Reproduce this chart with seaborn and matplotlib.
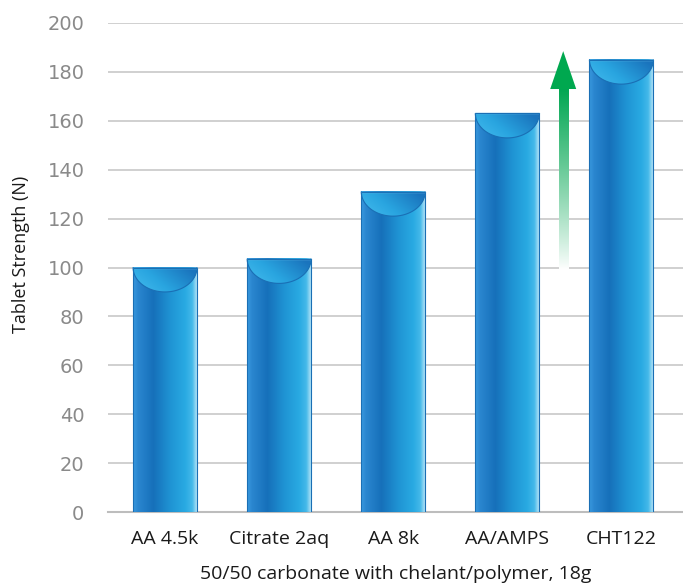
import numpy as np
import pandas as pd
import matplotlib
matplotlib.use("Agg")
import matplotlib.pyplot as plt
import seaborn as sns
from matplotlib.colors import LinearSegmentedColormap, to_rgba
from matplotlib.patches import Polygon

categories = ["AA 4.5k", "Citrate 2aq", "AA 8k", "AA/AMPS", "CHT122"]
strength = [100, 103.5, 131, 163, 185]
yticks = [0, 20, 40, 60, 80, 100, 120, 140, 160, 180, 200]
arrow_x = 3.49
arrow_bottom = 99
arrow_head_base = 173
arrow_tip = 188.5

df = pd.DataFrame({"cat": categories, "val": strength})

sns.set_theme(style="white")
plt.rcParams["font.family"] = ["DejaVu Sans"]

fig = plt.figure(figsize=(6.83, 5.84), dpi=100)
ax = fig.add_axes([108 / 683, 1 - 512 / 584, 1 - 108 / 683, (512 - 23) / 584])

sns.barplot(data=df, x="cat", y="val", ax=ax, width=0.56, color="#1f86cc",
            edgecolor="#1a6fb5", linewidth=0.8, zorder=2)

bar_cmap = LinearSegmentedColormap.from_list("bar", [
    (0.0, "#3a9ade"), (0.08, "#2a86cf"), (0.32, "#1670ba"),
    (0.58, "#1f93d3"), (0.82, "#29aae2"), (0.93, "#45b9ea"), (1.0, "#b0e2f6")])
cap_cmap = LinearSegmentedColormap.from_list("cap", [
    (0.0, "#45bcee"), (0.45, "#29a5e0"), (1.0, "#1a74bd")])

grad_h = np.linspace(0, 1, 256).reshape(1, -1)
cap_depth = 10
for p in list(ax.patches):
    x0 = p.get_x(); w = p.get_width(); h = p.get_height()
    p.set_facecolor("none")
    ax.imshow(grad_h, cmap=bar_cmap, aspect="auto", extent=(x0, x0 + w, 0, h),
              origin="lower", zorder=2.1, interpolation="bicubic")
    cx = x0 + w / 2
    t = np.linspace(np.pi, 2 * np.pi, 80)
    ex = cx + (w / 2) * np.cos(t)
    ey = h + cap_depth * np.sin(t)
    poly = Polygon(np.column_stack([ex, ey]), closed=True, facecolor="none",
                   edgecolor="none", zorder=2.3)
    ax.add_patch(poly)
    gx, gy = np.meshgrid(np.linspace(0, 1, 64), np.linspace(0, 1, 64))
    g = np.clip(0.75 * gx + 0.35 * (1 - gy), 0, 1)
    im = ax.imshow(g, cmap=cap_cmap, aspect="auto",
                   extent=(x0, x0 + w, h - cap_depth, h), origin="upper",
                   zorder=2.2, interpolation="bicubic")
    im.set_clip_path(poly)
    ax.plot(ex, ey, color="#1a6fb5", lw=0.8, zorder=2.4)
    ax.plot([x0, x0 + w], [h, h], color="#6cc4ee", lw=1.0, zorder=2.4)
    p.set_zorder(2.5)

# arrow
green = np.array(to_rgba("#00a651"))
n = 128
grad_v = np.zeros((n, 1, 4))
alpha = np.linspace(0.0, 1.0, n) ** 0.9
for i in range(n):
    grad_v[i, 0, :3] = green[:3] * alpha[i] + np.ones(3) * (1 - alpha[i])
    grad_v[i, 0, 3] = 1.0
shaft_hw = 0.04
ax.imshow(grad_v, aspect="auto", origin="lower",
          extent=(arrow_x - shaft_hw, arrow_x + shaft_hw, arrow_bottom, arrow_head_base + 0.5),
          zorder=3, interpolation="bicubic")
head_hw = 0.114
ax.add_patch(Polygon([(arrow_x - head_hw, arrow_head_base), (arrow_x + head_hw, arrow_head_base),
                      (arrow_x, arrow_tip)], closed=True, facecolor="#00a84f",
                     edgecolor="none", zorder=3.1))

ax.set_xlim(-0.5, 4.54)
ax.set_ylim(0, 200)
ax.set_yticks(yticks)
ax.yaxis.grid(True, color="#cdcdcd", lw=1.3, zorder=0)
ax.set_axisbelow(True)
for s in ["top", "right", "left"]:
    ax.spines[s].set_visible(False)
ax.spines["bottom"].set_color("#bdbdbd")
ax.spines["bottom"].set_linewidth(1.5)
ax.spines["bottom"].set_zorder(1)
ax.tick_params(axis="y", length=0, pad=17, labelsize=14, labelcolor="#8a8a8a")
ax.tick_params(axis="x", length=0, pad=13)
for lab in ax.get_xticklabels():
    lab.set_fontfamily("Open Sans"); lab.set_fontsize(14); lab.set_color("#1a1a1a")
ax.set_xlabel("50/50 carbonate with chelant/polymer, 18g", fontfamily="Open Sans",
              fontsize=14, color="#1a1a1a", labelpad=12)
ax.set_ylabel("Tablet Strength (N)", fontfamily="Open Sans", fontsize=13,
              color="#1a1a1a")
ax.yaxis.set_label_coords(-0.135, 0.526)

fig.savefig("out.png", dpi=100)
